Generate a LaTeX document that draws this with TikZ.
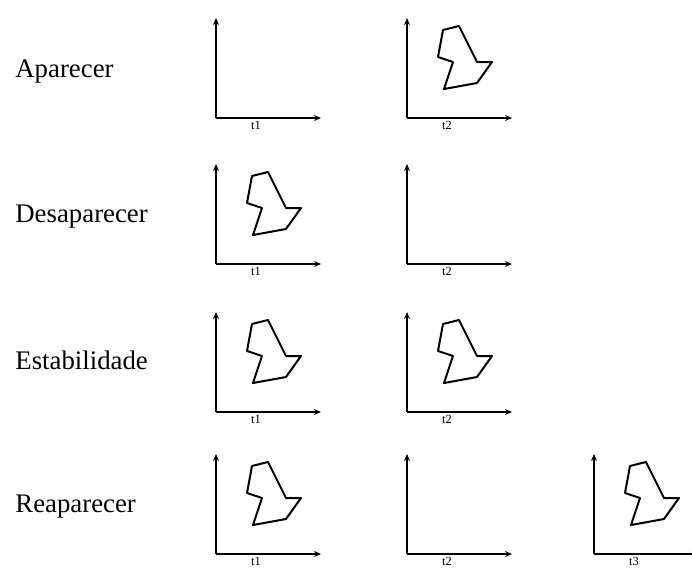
\documentclass[tikz,border=0pt]{standalone}
\usepackage{fontspec}
\setmainfont{Liberation Serif}
\usetikzlibrary{arrows.meta}

\begin{document}
\begin{tikzpicture}[
    x=0.5pt,
    y=-0.5pt,
    font=\fontsize{13.4}{16}\selectfont,
    achse/.style={line width=0.9pt, -{Stealth[length=3.5pt, width=3pt]}},
    figura/.style={line width=1pt, line join=round},
    tempo/.style={font=\fontsize{6.2}{7}\selectfont, inner sep=0pt},
    evento/.style={anchor=west, inner sep=0pt}
]

    % --- Makro: Achsenpaar mit Zeitmarke ---
    \newcommand{\quadro}[3]{
        \begin{scope}[shift={#2}]
            \coordinate (#1) at (0,0);
            \draw[achse] (#1) -- ++(0,-100);
            \draw[achse] (#1) -- ++(105,0);
            \node[tempo, anchor=north] (#1_t) at (40,3) {#3};
        \end{scope}
    }

    % --- Makro: Objekt im Achsenpaar ---
    \newcommand{\objeto}[1]{
        \begin{scope}[shift={(#1)}]
            \draw[figura] (36,-88) -- (52,-92) -- (70,-56) -- (85,-56) -- (70,-35)
                -- (37,-29) -- (46,-56) -- (31,-61) -- cycle;
        \end{scope}
    }

    \useasboundingbox (0,0) rectangle (692,569);

    % 1. Aparecer
    \node[evento] (aparecer) at (15,72) {Aparecer};
    \quadro{a1}{(216,118)}{t1}
    \quadro{a2}{(407,118)}{t2}
    \objeto{a2}

    % 2. Desaparecer
    \node[evento] (desaparecer) at (15,217) {Desaparecer};
    \quadro{d1}{(216,264)}{t1}
    \objeto{d1}
    \quadro{d2}{(407,264)}{t2}

    % 3. Estabilidade
    \node[evento] (estabilidade) at (15,360) {Estabilidade};
    \quadro{e1}{(216,412)}{t1}
    \objeto{e1}
    \quadro{e2}{(407,412)}{t2}
    \objeto{e2}

    % 4. Reaparecer
    \node[evento] (reaparecer) at (15,507) {Reaparecer};
    \quadro{r1}{(216,554)}{t1}
    \objeto{r1}
    \quadro{r2}{(407,554)}{t2}
    \quadro{r3}{(594,554)}{t3}
    \objeto{r3}

\end{tikzpicture}
\end{document}
